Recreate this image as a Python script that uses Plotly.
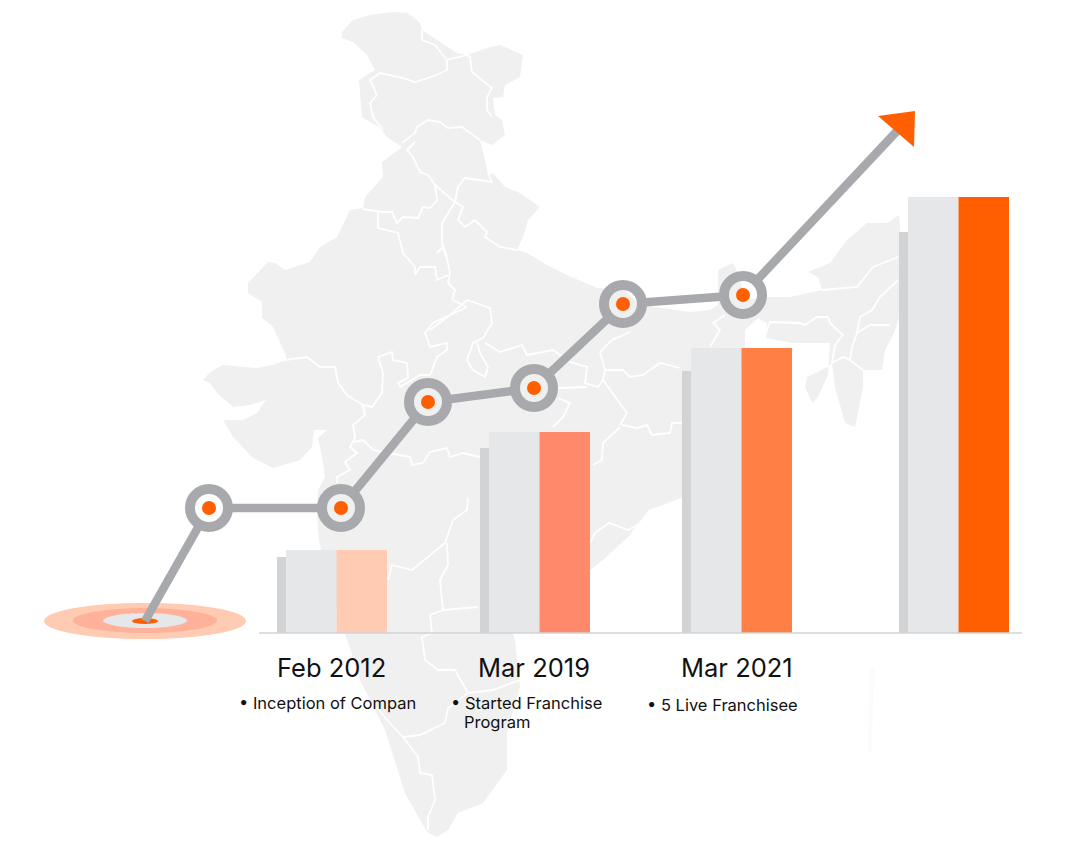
import numpy as np
import plotly.graph_objects as go

BASE_PX = 633

bar_left = [286, 489, 691, 908]
shadow_height = [76, 185, 262, 401]
bar_height = [83, 201, 285, 436]
bar_colors = ["#ffcbb3", "#ff8a6b", "#ff7f45", "#ff5f00"]

line_x = [145, 209, 341, 428, 534, 623, 743, 898]
line_y = [12, 125, 125, 231, 245, 329, 338, 503]
arrow_x = [878, 915, 914]
arrow_y = [517, 522, 486]

dates = ["Feb 2012", "Mar 2019", "Mar 2021"]
date_x = [331, 534, 736.5]

# map shape, traced in picture pixels (y down)
map_outline = [
    (342, 32), (353, 20), (370, 15), (393, 12), (408, 13), (420, 23), (422, 30), (437, 40), (457, 53),
    (467, 55), (487, 48), (500, 45), (523, 55), (520, 77), (505, 85), (503, 97), (493, 98), (495, 115),
    (502, 120), (505, 135), (492, 145), (480, 140), (485, 160), (488, 175), (493, 173), (505, 187),
    (520, 193), (540, 207), (528, 220), (523, 237), (517, 250), (527, 253), (547, 265), (567, 275),
    (597, 288), (625, 290), (640, 305), (663, 308), (690, 312), (710, 310), (718, 305), (718, 270),
    (733, 263), (739, 275), (745, 300), (765, 297), (790, 297), (822, 290), (818, 277), (808, 272),
    (830, 263), (847, 240), (867, 223), (887, 223), (899, 215), (905, 300), (894, 333), (885, 350),
    (882, 370), (863, 370), (863, 387), (855, 427), (845, 423), (835, 387), (832, 363), (828, 367),
    (807, 377), (805, 387), (812, 403), (818, 397), (828, 375), (830, 343), (793, 343), (766, 338),
    (767, 323), (758, 318), (745, 330), (745, 345), (720, 490), (681, 498), (649, 510), (628, 537),
    (603, 560), (590, 570), (560, 600), (513, 633), (515, 640), (520, 687), (507, 733), (507, 770),
    (483, 803), (458, 813), (448, 830), (437, 837), (427, 832), (405, 793), (385, 730), (360, 680),
    (345, 633), (330, 590), (319, 540), (317, 517), (318, 490), (325, 477), (322, 457), (318, 438),
    (327, 430), (314, 430), (312, 447), (300, 460), (273, 468), (253, 458), (233, 437), (223, 420),
    (243, 420), (257, 413), (266, 400), (250, 405), (233, 407), (217, 393), (210, 383), (203, 380),
    (210, 372), (223, 365), (257, 368), (272, 365), (287, 360), (285, 353), (273, 327), (262, 318),
    (262, 302), (248, 293), (248, 283), (268, 262), (275, 263), (285, 270), (310, 262), (320, 247),
    (337, 237), (350, 210), (363, 208), (365, 197), (383, 177), (382, 162), (402, 147), (387, 137),
    (380, 128), (362, 117), (359, 80), (375, 70), (367, 55), (353, 42), (342, 38),
]
state_borders = [
    [(422, 30), (422, 40), (435, 45), (447, 60), (447, 70), (437, 75), (415, 82), (403, 78), (380, 73),
     (370, 80), (377, 95), (370, 103), (373, 117), (383, 130)],
    [(447, 60), (467, 55), (470, 57), (472, 72), (492, 88), (487, 97), (487, 110), (492, 117)],
    [(402, 143), (415, 133), (417, 127), (428, 120), (440, 122), (448, 128), (462, 127), (475, 137), (480, 140)],
    [(415, 142), (407, 150), (413, 157), (420, 172), (428, 175), (435, 185), (455, 202)],
    [(363, 209), (382, 212), (392, 212), (397, 223), (403, 217), (418, 218), (423, 207), (430, 208),
     (437, 200), (435, 185)],
    [(378, 213), (378, 228), (398, 233), (403, 253), (415, 267), (415, 275), (420, 267), (435, 267),
     (437, 280), (448, 275)],
    [(455, 202), (442, 223), (442, 243), (448, 263), (450, 273), (448, 283), (455, 290), (452, 300)],
    [(437, 253), (443, 247), (447, 257)],
    [(455, 202), (463, 207), (458, 220), (465, 227), (475, 220), (487, 232), (485, 237), (500, 247), (517, 250)],
    [(455, 202), (458, 187), (465, 178), (492, 182), (488, 173)],
    [(285, 360), (307, 357), (320, 367), (335, 367), (338, 383), (347, 395), (363, 405), (372, 407),
     (382, 393), (383, 373), (378, 357), (392, 352), (393, 360), (407, 363), (408, 378), (398, 383),
     (400, 387), (420, 375), (430, 375), (437, 357), (447, 350), (447, 343), (430, 347), (425, 333),
     (433, 323), (467, 307), (453, 300)],
    [(363, 405), (365, 415), (353, 425), (355, 438), (350, 447), (357, 453), (345, 462), (350, 470),
     (337, 477), (337, 483)],
    [(353, 442), (363, 440), (373, 450), (390, 453), (410, 457), (412, 465), (423, 463), (430, 452),
     (447, 448), (450, 457), (463, 453), (480, 457)],
    [(430, 330), (450, 315), (467, 300), (490, 308), (492, 323), (483, 338), (473, 343), (467, 360),
     (473, 370), (485, 377), (488, 367), (480, 353), (477, 343)],
    [(485, 343), (500, 352), (522, 345), (527, 355), (553, 350), (570, 362), (587, 367), (585, 383),
     (598, 387), (603, 380)],
    [(630, 332), (612, 340), (600, 352), (605, 370), (603, 380), (622, 407), (627, 413), (620, 425)],
    [(558, 388), (587, 387)],
    [(558, 398), (570, 403), (563, 417), (553, 427)],
    [(605, 370), (623, 370), (630, 377), (643, 375), (660, 363), (680, 368)],
    [(622, 425), (637, 428), (647, 425), (652, 435), (670, 433), (672, 423), (682, 423)],
    [(620, 427), (603, 443), (602, 460), (593, 465)],
    [(590, 543), (595, 533), (609, 523), (628, 530), (641, 523)],
    [(388, 580), (392, 565), (412, 570), (445, 543), (453, 520), (467, 510), (468, 498)],
    [(447, 543), (448, 565), (440, 580), (443, 610), (430, 615), (432, 633), (422, 637), (425, 660),
     (438, 670), (455, 670), (468, 693), (448, 708), (445, 723), (420, 735), (403, 737)],
    [(443, 610), (463, 608), (478, 607)],
    [(468, 693), (493, 690), (520, 680)],
    [(403, 737), (418, 757), (420, 773), (432, 775), (435, 800), (428, 817), (428, 830)],
    [(377, 707), (387, 720), (403, 737)],
    [(822, 290), (857, 287), (873, 267), (898, 257)],
    [(898, 280), (880, 297), (872, 310), (860, 317), (857, 333), (852, 347), (850, 360)],
    [(766, 333), (770, 322), (800, 323), (805, 325), (817, 317), (828, 317), (830, 323), (843, 335),
     (835, 345), (832, 363)],
    [(857, 333), (870, 325), (890, 325)],
    [(832, 363), (843, 357), (850, 360), (863, 370)],
    [(725, 315), (713, 323), (720, 330), (710, 347)],
]
andaman = [(870, 668), (875, 668), (873, 700), (872, 752), (868, 752), (869, 700)]

GREY = "#a7a9ac"
ORANGE = "#ff5f00"
BAR_W = 50.5
RING_R = 23
FONT = "Inter"
# the page keeps an 8px body margin, so the plot area starts 8px in
PAGE_PAD = 8
PLOT_W = 1064
PLOT_H = 837


def xy(points):
    pts = np.array(points, dtype=float)
    return pts[:, 0], BASE_PX - pts[:, 1]


fig = go.Figure()

# map sits on the bottom axes, bars and line on the overlay so they stay on top
mx, my = xy(map_outline)
fig.add_trace(go.Scatter(x=mx, y=my, fill="toself", fillcolor="#f0f0f0", mode="none"))
ax, ay = xy(andaman)
fig.add_trace(go.Scatter(x=ax, y=ay, fill="toself", fillcolor="#fbfbfb", mode="none"))
for border in state_borders:
    bx, by = xy(border)
    fig.add_trace(go.Scatter(x=bx, y=by, mode="lines", line=dict(color="white", width=1.8)))

left = np.array(bar_left)
fig.add_trace(go.Bar(x=left - 9 + 5, y=shadow_height, width=10, marker=dict(color="#d1d3d4", line_width=0),
                     xaxis="x2", yaxis="y2"))
fig.add_trace(go.Bar(x=left + BAR_W / 2, y=bar_height, width=BAR_W, marker=dict(color="#e6e7e8", line_width=0),
                     xaxis="x2", yaxis="y2"))
fig.add_trace(go.Bar(x=left + BAR_W * 1.5, y=bar_height, width=BAR_W, marker=dict(color=bar_colors, line_width=0),
                     xaxis="x2", yaxis="y2"))
fig.add_trace(go.Scatter(x=[259, 1022], y=[0, 0], mode="lines", line=dict(color="#d1d3d4", width=1.5),
                         xaxis="x2", yaxis="y2"))

# line stops at the rings, the rings are see-through
seg_x, seg_y = [], []
for i in range(len(line_x) - 1):
    p0 = np.array([line_x[i], line_y[i]], dtype=float)
    p1 = np.array([line_x[i + 1], line_y[i + 1]], dtype=float)
    unit = (p1 - p0) / np.linalg.norm(p1 - p0)
    a = p0 + unit * RING_R if i > 0 else p0
    b = p1 - unit * RING_R if i + 1 < len(line_x) - 1 else p1
    seg_x += [a[0], b[0], None]
    seg_y += [a[1], b[1], None]
fig.add_trace(go.Scatter(x=seg_x, y=seg_y, mode="lines", line=dict(color=GREY, width=8.5),
                         xaxis="x2", yaxis="y2"))
fig.add_trace(go.Scatter(x=line_x[1:-1], y=line_y[1:-1], mode="markers",
                         marker=dict(size=38, color="rgba(0,0,0,0)", line=dict(color=GREY, width=10)),
                         xaxis="x2", yaxis="y2"))
fig.add_trace(go.Scatter(x=line_x[1:-1], y=line_y[1:-1], mode="markers",
                         marker=dict(size=14, color=ORANGE, line_width=0),
                         xaxis="x2", yaxis="y2"))
fig.add_trace(go.Scatter(x=arrow_x, y=arrow_y, fill="toself", fillcolor=ORANGE, mode="none",
                         xaxis="x2", yaxis="y2"))

# target under the start of the line
for x0, x1, y0, y1, col in [(44, 246, 603, 639, "#ffcbb3"), (73, 217, 608, 633, "#ffb199"),
                            (103, 187, 613, 628, "#e6e7e9"), (132, 158, 618, 624, ORANGE)]:
    fig.add_shape(type="circle", x0=x0, x1=x1, y0=BASE_PX - y0, y1=BASE_PX - y1, xref="x", yref="y",
                  fillcolor=col, line_width=0, layer="below")

for label, x in zip(dates, date_x):
    fig.add_annotation(x=x, y=BASE_PX - 667, text=label, showarrow=False, xanchor="center", yanchor="middle",
                       font=dict(family=FONT, size=25.5, color="#111111"))
notes = [(237, 703, "• Inception of Compan"), (449, 703, "• Started Franchise"), (462, 722, "Program"),
         (645, 705, "• 5 Live Franchisee")]
for x, y, label in notes:
    fig.add_annotation(x=x, y=BASE_PX - y, text=label, showarrow=False, xanchor="left", yanchor="middle",
                       font=dict(family=FONT, size=16.5, color="#111111"))

axis = dict(range=[PAGE_PAD, PAGE_PAD + PLOT_W], visible=False, fixedrange=True)
yaxis = dict(range=[BASE_PX - PAGE_PAD - PLOT_H, BASE_PX - PAGE_PAD], visible=False, fixedrange=True)
fig.update_layout(
    width=PLOT_W, height=PLOT_H, margin=dict(l=0, r=0, t=0, b=0),
    paper_bgcolor="white", plot_bgcolor="white",
    showlegend=False, hovermode=False, barmode="overlay",
    xaxis=axis, yaxis=yaxis,
    xaxis2=dict(axis, overlaying="x"), yaxis2=dict(yaxis, overlaying="y"),
)
fig.write_html("out.html")
